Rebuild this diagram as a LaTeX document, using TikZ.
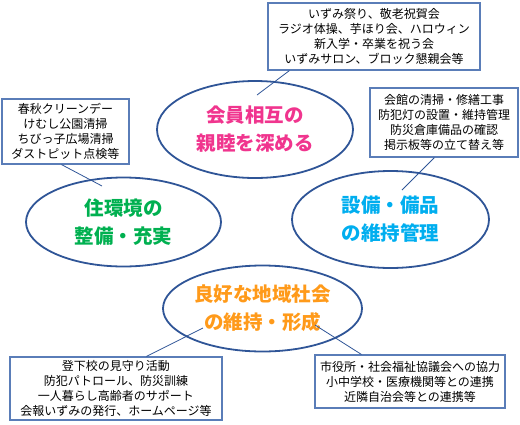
\documentclass[tikz,border=0pt]{standalone}
\usepackage{fontspec}
\setmainfont{Noto Sans CJK JP}
\newfontfamily\jpb{Noto Sans CJK JP}[BoldFont={Noto Sans CJK JP Bold}]
\usetikzlibrary{shapes.geometric,calc}
\definecolor{ellline}{HTML}{2F5597}
\definecolor{boxline}{HTML}{5A7DB8}
\definecolor{txtpink}{HTML}{F0358E}
\definecolor{txtgreen}{HTML}{00B050}
\definecolor{txtblue}{HTML}{00AEEF}
\definecolor{txtorange}{HTML}{FF9A1A}
\tikzset{
  ell/.style={ellipse, draw=ellline, line width=1.8pt, inner sep=0pt, align=center,
    font=\fontsize{19.5}{28}\selectfont\bfseries},
  infobox/.style={rectangle, draw=boxline, line width=1.1pt, fill=white, inner sep=0pt,
    align=center, font=\fontsize{12}{15}\selectfont},
  conn/.style={draw=ellline, line width=0.8pt}
}
\begin{document}
\begin{tikzpicture}[x=1pt,y=-1pt]
\useasboundingbox (0,0) rectangle (520,424);
% ellipses
\node[ell, minimum width=196, minimum height=97, text=txtpink] (e1) at (255,129.5) {会員相互の\\親睦を深める};
\node[ell, minimum width=195, minimum height=89, text=txtgreen] (e2) at (123.5,222) {住環境の\\整備・充実};
\node[ell, minimum width=197, minimum height=97, text=txtblue] (e3) at (390.5,219.5) {設備・備品\\の維持管理};
\node[ell, minimum width=199, minimum height=86, text=txtorange] (e4) at (262.5,308.5) {良好な地域社会\\の維持・形成};
% boxes
\node[infobox, minimum width=212, minimum height=67] (b1) at (374,36.5) {いずみ祭り、敬老祝賀会\\ラジオ体操、芋ほり会、ハロウィン\\新入学・卒業を祝う会\\いずみサロン、ブロック懇親会等};
\node[infobox, minimum width=127, minimum height=65] (b2) at (65.5,131.5) {春秋クリーンデー\\けむし公園清掃\\ちびっ子広場清掃\\ダストピット点検等};
\node[infobox, minimum width=148, minimum height=69] (b3) at (444,122.5) {会館の清掃・修繕工事\\防犯灯の設置・維持管理\\防災倉庫備品の確認\\掲示板等の立て替え等};
\node[infobox, minimum width=212, minimum height=63] (b4) at (116,388.5) {登下校の見守り活動\\防犯パトロール、防災訓練\\一人暮らし高齢者のサポート\\会報いずみの発行、ホームページ等};
\node[infobox, minimum width=190, minimum height=53] (b5) at (410,381.5) {市役所・社会福祉協議会への協力\\小中学校・医療機関等との連携\\近隣自治会等との連携等};
% connector ends
\coordinate (c1) at (257,95);
\coordinate (c2) at (102,186);
\coordinate (c3) at (402,190);
\coordinate (c4) at (203,328);
\coordinate (c5) at (315,325);
\draw[conn] ($(b1.south west)+(22,0)$) -- (c1);
\draw[conn] ($(b2.south west)+(60,0)$) -- (c2);
\draw[conn] ($(b3.south west)+(65,0)$) -- (c3);
\draw[conn] ($(b4.north west)+(137,0)$) -- (c4);
\draw[conn] ($(b5.north west)+(47,0)$) -- (c5);
\end{tikzpicture}
\end{document}
